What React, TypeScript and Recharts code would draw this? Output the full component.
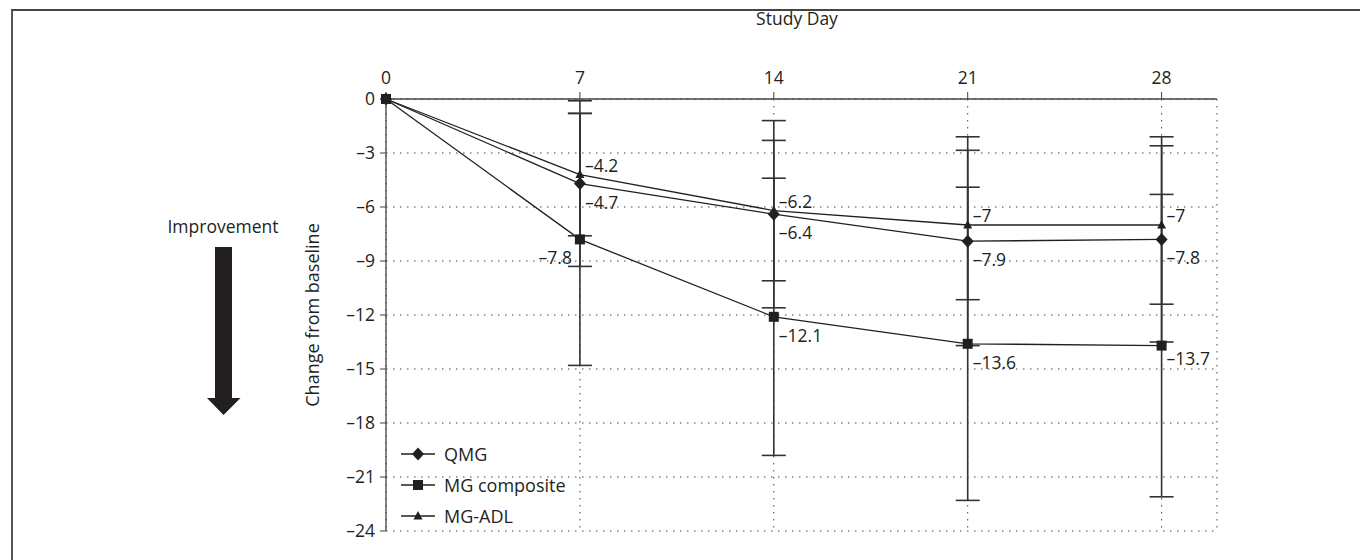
import { LineChart, Line, XAxis, YAxis, CartesianGrid, ErrorBar, LabelList, Legend } from "recharts";

// values (change from baseline, mean ± SD)
const days = [0, 7, 14, 21, 28];
const qmg = [0, -4.7, -6.4, -7.9, -7.8];
const qmgSd = [null, 4.6, 5.2, 5.8, 5.7];
const mgComposite = [0, -7.8, -12.1, -13.6, -13.7];
const mgCompositeSd = [null, 7.0, 7.7, 8.7, 8.4];
const mgAdl = [0, -4.2, -6.2, -7, -7];
const mgAdlSd = [null, 3.4, 3.9, 4.15, 4.4];
const yTicks = [0, -3, -6, -9, -12, -15, -18, -21, -24];
const seriesNames = ["QMG", "MG composite", "MG-ADL"];

const data = days.map((day, i) => ({
  day,
  qmg: qmg[i],
  qmgSd: qmgSd[i],
  mgComposite: mgComposite[i],
  mgCompositeSd: mgCompositeSd[i],
  mgAdl: mgAdl[i],
  mgAdlSd: mgAdlSd[i],
}));

const ink = "#231f20";
const font = "'Open Sans', 'Noto Sans', sans-serif";
const fs = 17.5;

const fmt = (v: number) => (v === 0 ? "0" : "\u2013" + Math.abs(v));

const marker = (kind: number, cx: number, cy: number, key?: string) => {
  if (kind === 0)
    return <polygon key={key} points={`${cx},${cy - 6.5} ${cx + 6},${cy} ${cx},${cy + 6.5} ${cx - 6},${cy}`} fill={ink} />;
  if (kind === 1) return <rect key={key} x={cx - 5} y={cy - 5} width={10} height={10} fill={ink} />;
  return <polygon key={key} points={`${cx},${cy - 5} ${cx + 4.5},${cy + 3.5} ${cx - 4.5},${cy + 3.5}`} fill={ink} />;
};

const dotFor = (kind: number) => (props: any) => marker(kind, props.cx, props.cy, `d${kind}-${props.index}`);

// value labels next to the points
const labelFor = (kind: number) => (props: any) => {
  const { x, y, value, index } = props;
  if (index === 0) return null;
  let dx = 5;
  let dy = kind === 2 ? -10 : 18;
  let anchor = "start";
  if (kind === 1 && index === 1) {
    dx = -8;
    anchor = "end";
  }
  if (kind === 1 && index === 4) dy = 12;
  return (
    <text x={x + dx} y={y + dy} textAnchor={anchor} dominantBaseline="central" fontSize={fs} fontFamily={font} fill={ink}>
      {fmt(value)}
    </text>
  );
};

const renderLegend = () => (
  <div style={{ fontFamily: font, fontSize: 18, color: ink }}>
    {seriesNames.map((name, i) => (
      <div key={name} style={{ display: "flex", alignItems: "center", height: 31 }}>
        <svg width={43} height={16} style={{ flex: "none" }}>
          <line x1={0} y1={8} x2={34} y2={8} stroke={ink} strokeWidth={1.3} />
          {marker(i, 17, 8)}
        </svg>
        <span>{name}</span>
      </div>
    ))}
  </div>
);

export default function App() {
  return (
    <div style={{ position: "absolute", left: 0, top: 0, width: 1360, height: 560, background: "#fff", overflow: "hidden" }}>
      <div style={{ position: "absolute", left: 11, top: 9, width: 1400, height: 600, borderTop: "2px solid #444", borderLeft: "2px solid #555" }} />
      <svg width={1360} height={560} style={{ position: "absolute", left: 0, top: 0 }}>
        <text x={223} y={226} textAnchor="middle" dominantBaseline="central" fontSize={fs} fontFamily={font} fill={ink}>
          Improvement
        </text>
        <polygon points="215,247 232,247 232,398 240.5,398 223.5,415 207,398 215,398" fill={ink} />
      </svg>
      <div style={{ position: "absolute", left: 0, top: 0 }}>
        <LineChart width={1360} height={560} data={data} margin={{ top: 69, right: 143, left: 326, bottom: 29 }}>
          <CartesianGrid stroke="#444" strokeDasharray="1.5 5.5" />
          <XAxis
            dataKey="day"
            type="number"
            orientation="top"
            domain={[0, 30]}
            ticks={days}
            height={30}
            tickSize={7}
            tickMargin={8}
            axisLine={{ stroke: "#444", strokeWidth: 1.3 }}
            tickLine={{ stroke: "#444" }}
            tick={{ fill: ink, fontSize: fs, fontFamily: font }}
            label={{
              content: () => (
                <text x={797} y={18} textAnchor="middle" dominantBaseline="central" fontSize={fs} fontFamily={font} fill={ink}>
                  Study Day
                </text>
              ),
            }}
          />
          <YAxis
            type="number"
            domain={[-24, 0]}
            ticks={yTicks}
            width={60}
            tickSize={6}
            tickMargin={5}
            tickFormatter={fmt}
            axisLine={{ stroke: "#444", strokeWidth: 1.3 }}
            tickLine={{ stroke: "#444" }}
            tick={{ fill: ink, fontSize: fs, fontFamily: font }}
            label={{
              content: (p: any) => {
                const vb = p.viewBox || { y: 99, height: 432 };
                const cy = vb.y + vb.height / 2;
                return (
                  <text x={312} y={cy} transform={`rotate(-90 312 ${cy})`} textAnchor="middle" dominantBaseline="central" fontSize={18} fontFamily={font} fill={ink}>
                    Change from baseline
                  </text>
                );
              },
            }}
          />
          <Legend
            layout="vertical"
            align="center"
            verticalAlign="middle"
            content={renderLegend}
            wrapperStyle={{ left: 401, top: 438, width: 220, height: 100 }}
          />
          <Line dataKey="mgComposite" name="MG composite" stroke={ink} strokeWidth={1.3} dot={dotFor(1)} activeDot={false} isAnimationActive={false}>
            <ErrorBar dataKey="mgCompositeSd" direction="y" width={12} stroke="#333" strokeWidth={1.6} />
            <LabelList dataKey="mgComposite" content={labelFor(1)} />
          </Line>
          <Line dataKey="qmg" name="QMG" stroke={ink} strokeWidth={1.3} dot={dotFor(0)} activeDot={false} isAnimationActive={false}>
            <ErrorBar dataKey="qmgSd" direction="y" width={12} stroke="#333" strokeWidth={1.6} />
            <LabelList dataKey="qmg" content={labelFor(0)} />
          </Line>
          <Line dataKey="mgAdl" name="MG-ADL" stroke={ink} strokeWidth={1.3} dot={dotFor(2)} activeDot={false} isAnimationActive={false}>
            <ErrorBar dataKey="mgAdlSd" direction="y" width={12} stroke="#333" strokeWidth={1.6} />
            <LabelList dataKey="mgAdl" content={labelFor(2)} />
          </Line>
        </LineChart>
      </div>
    </div>
  );
}
